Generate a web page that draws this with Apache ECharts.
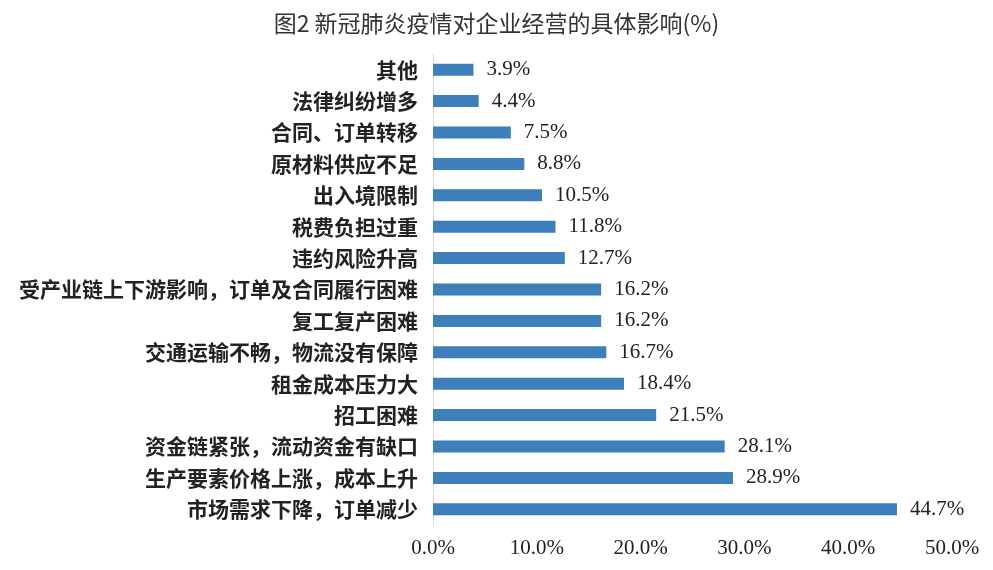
<!DOCTYPE html>
<html><head><meta charset="utf-8">
<script src="https://cdn.jsdelivr.net/npm/echarts@6/dist/echarts.min.js"></script>
<style>html,body{margin:0;padding:0;background:#fff}#c{width:993px;height:570px}</style>
</head><body><div id="c"></div>
<script>
var categories = ['市场需求下降，订单减少','生产要素价格上涨，成本上升','资金链紧张，流动资金有缺口','招工困难','租金成本压力大','交通运输不畅，物流没有保障','复工复产困难','受产业链上下游影响，订单及合同履行困难','违约风险升高','税费负担过重','出入境限制','原材料供应不足','合同、订单转移','法律纠纷增多','其他'];
var values = [44.7,28.9,28.1,21.5,18.4,16.7,16.2,16.2,12.7,11.8,10.5,8.8,7.5,4.4,3.9];
var xTicks = [0,10,20,30,40,50];
var chart = echarts.init(document.getElementById('c'));
chart.setOption({
  animation:false,
  title:{text:'图2 新冠肺炎疫情对企业经营的具体影响(%)',left:'center',top:7,
    textStyle:{fontFamily:'Noto Sans CJK SC',fontSize:23,fontWeight:'normal',color:'#333'}},
  grid:{left:433,right:41,top:54,bottom:45,containLabel:false},
  xAxis:{type:'value',min:xTicks[0],max:xTicks[xTicks.length-1],interval:10,
    axisLine:{show:false},axisTick:{show:false},splitLine:{show:false},
    axisLabel:{formatter:function(v){return v.toFixed(1)+'%';},fontFamily:'Liberation Serif',fontSize:21,color:'#222',margin:13}},
  yAxis:{type:'category',data:categories,
    axisLine:{show:true,lineStyle:{color:'#d9d9d9',width:1}},axisTick:{show:false},
    axisLabel:{fontFamily:'Noto Sans CJK SC',fontWeight:'bold',fontSize:21,color:'#222',margin:15}},
  series:[{type:'bar',data:values,barWidth:12,itemStyle:{color:'#3d7fbb'},
    label:{show:true,position:'right',distance:13,formatter:function(p){return p.value.toFixed(1)+'%';},
      fontFamily:'Liberation Serif',fontSize:21,color:'#222'}}]
});
</script></body></html>
